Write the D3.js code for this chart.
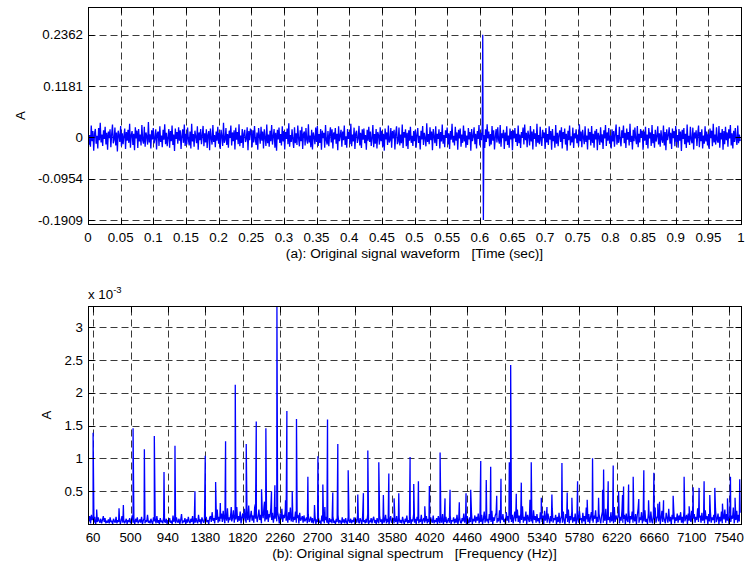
<!DOCTYPE html>
<html><head><meta charset="utf-8">
<script src="https://cdn.jsdelivr.net/npm/d3@7"></script>
<style>
body{margin:0;background:#fff}
svg text{font-family:Arial,"Liberation Sans",Helvetica,sans-serif;fill:#000}
</style>
</head><body>
<svg id="c" width="746" height="567"></svg>
<script>
// ---------- DATA ----------
// (a) waveform: time axis ticks and values
const timeTicks = [0,0.05,0.1,0.15,0.2,0.25,0.3,0.35,0.4,0.45,0.5,0.55,0.6,0.65,0.7,0.75,0.8,0.85,0.9,0.95,1];
const waveTicks = [-0.1909,-0.0954,0,0.1181,0.2362];
const sampleStep = 0.00125; // sec between plotted samples
// noise samples 0 - 0.5 s, in units of 1e-3 A (estimated from the band)
const waveNoiseFirstHalf = [
12,-18,5,-22,27,-9,14,-31,8,19,-15,3,-26,21,-7,33,-12,6,-20,16,
-4,24,-17,10,-29,13,-2,18,-23,7,29,-14,-6,22,-19,11,-33,15,4,-11,
26,-21,9,-16,3,20,-27,12,-8,17,-13,31,-24,5,14,-18,8,-30,23,-3,
15,-25,19,-10,6,-19,28,-7,-15,24,-22,11,2,-17,35,-12,7,-26,16,-5,
21,-14,-3,18,-28,9,13,-20,25,-11,4,-23,17,-6,30,-16,10,-21,-1,19,
-24,14,-9,27,-18,6,-32,20,-4,12,-15,23,-8,16,-27,3,18,-13,29,-20,
8,-17,22,-5,-19,13,-26,31,-10,7,-22,15,1,-14,25,-29,11,-7,19,-16,
4,26,-21,9,-12,18,-25,6,14,-30,20,-3,-17,28,-11,5,-23,13,-8,24,
-15,10,-27,17,2,-20,33,-13,-6,21,-18,7,-24,15,-2,27,-19,11,-9,16,
-28,22,-6,12,-16,30,-21,4,-13,19,-25,8,17,-11,-4,23,-30,14,-7,20,
9,-23,16,-12,26,-5,-18,11,-29,21,3,-15,24,-8,13,-26,18,-2,-20,29,
-14,6,-22,15,-9,28,-17,2,19,-24,10,-31,17,-5,22,-13,7,-19,25,-10,
14,-28,12,-4,20,-16,32,-22,5,-11,18,-7,-25,23,-14,9,-18,27,-3,-21,
16,-9,24,-27,8,13,-19,21,-6,-15,30,-12,4,-23,17,-28,11,1,-16,22,
-11,26,-20,7,-13,19,-29,15,-2,10,-24,28,-8,-17,14,-21,6,23,-12,18,
-26,11,-5,21,-15,8,-30,25,-9,3,17,-22,13,-7,27,-18,2,-24,19,-4,
12,-16,31,-21,6,-10,22,-27,9,15,-13,-3,26,-19,10,-25,18,-6,20,-14,
5,-29,17,-8,24,-11,13,-20,-2,28,-23,7,-15,19,-26,12,4,-17,23,-9,
15,-22,8,-31,20,-5,11,-18,27,-12,-7,21,-24,14,-3,17,-28,9,25,-16,
-10,22,-19,6,-14,29,-25,12,-1,18,-21,10,-27,16,-8,24,-13,3,-20,14
];
// noise samples 0.5 - 1 s, in units of 1e-3 A
const waveNoiseSecondHalf = [
-9,17,-24,6,21,-13,3,-28,15,-5,26,-18,10,-2,-21,32,-11,7,-16,23,
-7,13,-30,19,1,-14,25,-20,8,-4,18,-26,12,-10,29,-15,5,-23,16,-1,
22,-17,9,-27,14,-6,31,-12,3,-19,24,-8,11,-29,17,-3,20,-22,6,-13,
27,-10,15,-24,4,-18,21,-5,12,-31,19,-9,2,23,-16,8,-26,14,-4,28,
-19,10,-7,24,-14,5,-25,18,-11,30,-3,13,-21,7,-17,26,-8,16,-28,1,
19,-12,23,-6,-15,28,-22,9,-2,17,-27,11,-9,25,-18,4,-24,20,-5,14,
-30,16,-3,21,-11,8,-20,27,-14,6,-25,12,-1,22,-17,29,-7,10,-23,15,
3,-19,26,-10,13,-28,18,-4,9,-22,31,-13,5,-16,24,-8,-20,17,-2,11,
-27,21,-12,7,-18,25,-6,14,-29,19,-9,3,-24,28,-15,10,-21,6,16,-11,
23,-26,12,-4,20,-17,8,-31,15,-7,27,-19,2,-12,22,-25,9,-3,18,-14,
6,-21,30,-9,13,-23,17,-1,-16,25,-11,4,-28,20,-6,12,-19,26,-13,8,
-24,15,-5,19,-30,10,2,-18,23,-12,7,-27,16,-3,28,-20,11,-8,21,-15,
4,-26,18,-10,14,-22,9,29,-17,5,-13,24,-7,-21,16,-2,27,-14,10,-25,
20,-6,12,-19,31,-11,3,-28,17,-9,22,-4,-16,26,-23,8,-12,19,-1,15,
-29,13,-8,24,-18,6,-26,21,-3,11,-20,28,-14,7,-24,17,-10,2,25,-17,
9,-22,16,-5,-13,27,-19,12,-30,18,-7,4,23,-15,10,-27,20,-2,14,-21,
26,-11,5,-24,19,-8,13,-32,17,-4,21,-16,8,-25,29,-12,3,-18,24,-6,
-14,22,-28,11,-3,16,-20,7,27,-23,12,-9,18,-26,4,-15,25,-10,13,-19,
8,-27,20,-2,15,-21,31,-12,6,-17,23,-8,-13,26,-24,10,-5,19,-29,14,
-16,24,-7,11,-22,18,-3,28,-19,9,-26,15,-11,21,-4,-18,27,-14,6,-9
];
// impulse near t = 0.605 s
const spikeTimes = [0.6045, 0.6055];
const spikeValues = [0.2362, -0.1909];

// (b) spectrum: frequency ticks, amplitude ticks (x 1e-3)
const freqTicks = [60,500,940,1380,1820,2260,2700,3140,3580,4020,4460,4900,5340,5780,6220,6660,7100,7540];
const specTicks = [0.5,1,1.5,2,2.5,3];
const floorStep = 10; // Hz between floor samples
// background floor 0 - 3830 Hz, units of 1e-5 A
const spectrumFloorLow = [
16,4,12,1,14,6,9,2,11,0,7,3,10,5,2,8,1,6,12,3,9,1,5,2,
7,1,10,3,5,0,8,4,2,11,1,6,3,9,0,5,12,2,7,1,4,8,0,6,
3,9,1,5,13,2,6,0,8,3,10,1,4,7,2,11,0,5,9,1,6,3,14,2,
5,1,8,3,0,10,4,7,1,12,2,6,0,9,3,5,1,11,4,2,8,0,6,3,
9,2,5,0,13,3,7,1,10,4,2,8,0,6,15,1,5,3,9,0,7,2,11,4,
1,8,3,12,0,6,2,9,4,1,14,3,7,0,10,5,2,8,1,11,3,6,0,9,
12,3,18,5,9,1,15,6,22,2,11,4,8,16,3,20,7,1,13,5,24,2,10,6,
17,4,9,21,2,14,7,26,3,12,5,19,1,10,16,4,23,8,2,15,6,28,3,11,
20,5,13,2,25,8,16,3,11,22,6,14,1,18,9,27,4,12,7,21,3,15,10,24,
6,17,2,13,8,26,4,19,11,1,16,7,23,3,14,9,20,5,12,2,18,6,25,4,
15,3,11,6,19,2,9,14,1,17,5,8,12,2,13,4,7,10,1,15,3,6,11,2,
9,1,6,12,0,7,3,10,2,5,0,13,4,8,1,6,11,2,4,0,9,3,7,1,
12,2,5,0,8,3,14,1,6,4,0,10,2,7,1,9,3,0,11,5,2,8,1,6,
3,10,0,7,2,13,4,1,9,5,0,12,3,6,1,8,2,15,0,5,3,9,1,7,
11,2,6,0,9,4,1,13,3,7,0,10,2,5,14,1,8,3,0,6,12,2,4,9,
1,7,3,12,0,5,9,2,6,1,11,4,0,8,3,13,1,6,2,10,0,7,4,15
];
// background floor 3840 - 7670 Hz, units of 1e-5 A
const spectrumFloorHigh = [
2,8,0,11,5,1,7,3,14,0,6,9,2,4,12,1,8,3,0,10,5,2,13,1,
6,3,9,0,12,4,1,8,2,15,0,7,3,11,1,5,9,2,13,0,6,4,10,1,
8,2,14,0,6,11,3,1,9,4,16,2,7,0,12,5,1,10,3,18,0,8,4,13,
2,11,5,16,1,9,3,14,0,7,19,2,12,4,8,1,15,6,3,20,0,10,5,13,
17,2,9,4,21,1,11,6,15,3,8,0,18,5,12,2,24,7,3,14,1,10,19,4,
9,22,3,13,1,16,6,27,2,11,5,19,0,14,8,3,17,4,10,1,21,6,12,2,
15,4,9,1,18,7,3,13,0,20,5,11,2,16,8,1,12,4,23,2,9,6,14,0,
11,3,17,1,8,13,2,19,5,0,15,9,3,22,1,12,6,18,2,10,4,16,0,7,
14,2,20,6,9,1,17,4,12,0,25,7,3,15,1,10,18,5,2,13,8,21,1,11,
3,16,7,1,12,19,2,9,5,23,0,14,6,11,2,18,4,8,1,26,3,13,7,10,
17,1,11,5,20,2,8,14,0,16,6,3,22,1,12,7,19,2,9,4,15,0,13,24,
2,10,6,18,1,13,4,21,3,8,0,16,11,2,19,5,1,14,7,25,2,9,12,4,
15,0,8,20,3,12,6,1,17,9,2,23,4,11,0,14,7,19,1,10,5,16,2,13,
6,18,2,11,1,22,4,9,14,0,16,5,12,3,20,1,8,15,2,11,6,24,3,10,
13,2,17,5,9,1,21,7,12,0,15,4,19,2,10,6,14,1,23,3,8,16,0,11,
4,19,1,12,7,22,2,15,5,10,0,18,3,13,8,25,1,11,6,20,2,14,4,17
];
// spectral peaks: frequency (Hz)
const peakFreqs = [60,102,365,416,530,663,780,894,1023,1258,1379,1501,1556,1618,1685,1732,1861,1967,1979,2041,2076,2092,2158,2198,2222,2323,2339,2402,2452,2586,2664,2704,2762,2786,2817,2879,2938,3060,3173,3239,3291,3420,3474,3538,3600,3655,3788,3831,3886,3961,4015,4141,4199,4258,4367,4446,4501,4619,4684,4736,4807,4857,4955,4971,5037,5096,5198,5213,5331,5398,5456,5574,5636,5691,5758,5871,5934,6005,6052,6064,6118,6177,6240,6287,6299,6358,6412,6478,6537,6593,6655,6702,6722,6769,6882,7011,7070,7117,7187,7246,7313,7372,7462,7521,7556,7610,7665];
// spectral peaks: amplitude (x 1e-3 A)
const peakAmps = [1.39,0.22,0.24,0.29,1.46,1.14,1.34,0.79,1.19,0.50,1.04,0.64,0.32,1.26,0.26,2.12,1.22,0.30,1.56,0.53,0.34,1.46,0.50,0.59,3.32,0.36,1.72,0.50,1.60,0.72,0.29,1.03,0.60,0.26,1.59,0.48,1.22,0.82,0.45,0.47,1.12,0.94,0.44,0.77,0.39,0.47,1.02,0.61,0.65,0.27,0.58,1.09,0.39,0.52,0.33,0.47,0.52,0.96,0.67,0.87,0.43,0.69,0.94,2.42,0.46,0.63,0.37,0.94,0.40,0.26,0.45,0.93,0.48,0.40,0.65,0.37,1.00,0.40,0.52,0.83,0.65,0.89,0.50,0.44,0.57,0.60,0.72,0.38,0.82,0.36,0.78,0.31,0.34,0.36,0.43,0.72,0.27,0.56,0.55,0.65,0.44,0.55,0.31,0.39,0.72,0.40,0.68];

// ---------- BUILD SERIES ----------
const waveData = waveNoiseFirstHalf.concat(waveNoiseSecondHalf)
  .map((v, i) => [i * sampleStep, v / 1000])
  .concat(spikeTimes.map((t, i) => [t, spikeValues[i]]))
  .sort((a, b) => a[0] - b[0]);
const specData = spectrumFloorLow.concat(spectrumFloorHigh)
  .map((v, i) => [i * floorStep, v / 100])
  .concat(peakFreqs.map((f, i) => [f, peakAmps[i]]))
  .sort((a, b) => a[0] - b[0]);

// ---------- DRAW ----------
const svg = d3.select("#c");
const FS = 13.3;
const NB = "\u00a0";

function panel(o) {
  const g = svg.append("g");
  const x = d3.scaleLinear().domain(o.xDomain).range([o.left, o.right]);
  const y = d3.scaleLinear().domain(o.yDomain).range([o.bottom, o.top]);
  const px = v => Math.round(x(v)) + 0.5;
  const py = v => Math.round(y(v)) + 0.5;
  const L = Math.round(o.left) + 0.5, R = Math.round(o.right) + 0.5;
  const T = Math.round(o.top) + 0.5, B = Math.round(o.bottom) + 0.5;

  // grid
  const grid = g.append("g").attr("stroke", "#3a3a3a").attr("stroke-width", 1)
    .attr("stroke-dasharray", "7,4").attr("fill", "none");
  o.xTicks.forEach(t => grid.append("line").attr("x1", px(t)).attr("x2", px(t)).attr("y1", B).attr("y2", T));
  o.yTicks.forEach(t => grid.append("line").attr("x1", L).attr("x2", R).attr("y1", py(t)).attr("y2", py(t)));

  // data
  const cid = "clip" + o.id;
  svg.append("clipPath").attr("id", cid).append("rect")
    .attr("x", o.left).attr("y", o.top).attr("width", o.right - o.left).attr("height", o.bottom - o.top);
  g.append("path").datum(o.data)
    .attr("clip-path", `url(#${cid})`)
    .attr("fill", "none").attr("stroke", "#0000ff").attr("stroke-width", o.lw)
    .attr("stroke-linejoin", "bevel")
    .attr("d", d3.line().x(d => x(d[0])).y(d => y(d[1])));

  // box + ticks
  const ax = g.append("g").attr("stroke", "#000").attr("stroke-width", 1).attr("fill", "none");
  ax.append("rect").attr("x", L).attr("y", T).attr("width", R - L).attr("height", B - T);
  const tl = 6;
  o.xTicks.forEach(t => {
    ax.append("line").attr("x1", px(t)).attr("x2", px(t)).attr("y1", B).attr("y2", B - tl);
    ax.append("line").attr("x1", px(t)).attr("x2", px(t)).attr("y1", T).attr("y2", T + tl);
  });
  o.yTicks.forEach(t => {
    ax.append("line").attr("x1", L).attr("x2", L + tl).attr("y1", py(t)).attr("y2", py(t));
    ax.append("line").attr("x1", R).attr("x2", R - tl).attr("y1", py(t)).attr("y2", py(t));
  });

  // tick labels
  o.xTicks.forEach(t => g.append("text").attr("x", x(t)).attr("y", o.bottom + 17.5)
    .attr("text-anchor", "middle").attr("font-size", FS).text(o.xFmt(t)));
  o.yTicks.forEach(t => g.append("text").attr("x", o.left - 5).attr("y", y(t) + 4.8)
    .attr("text-anchor", "end").attr("font-size", FS).text(o.yFmt(t)));

  // labels
  g.append("text").attr("x", (o.left + o.right) / 2).attr("y", o.bottom + 34)
    .attr("text-anchor", "middle").attr("font-size", 13.7).text(o.xlabel);
  g.append("text").attr("transform", `translate(${o.ylabelX},${(o.top + o.bottom) / 2}) rotate(-90)`)
    .attr("text-anchor", "middle").attr("font-size", FS).text("A");
  return {x, y};
}

panel({
  id: "a", left: 88, right: 741, top: 7, bottom: 224,
  xDomain: [0, 1], yDomain: [-0.2, 0.3],
  xTicks: timeTicks, yTicks: waveTicks,
  xFmt: t => String(+t.toFixed(2)), yFmt: t => String(t),
  data: waveData, lw: 1.3,
  xlabel: "(a): Original signal waveform" + NB + NB + NB + "[Time (sec)]", ylabelX: 25
});

panel({
  id: "b", left: 88, right: 741, top: 306, bottom: 524,
  xDomain: [0, 7680], yDomain: [0, 3.32],
  xTicks: freqTicks, yTicks: specTicks,
  xFmt: t => String(t), yFmt: t => String(t),
  data: specData, lw: 1.3,
  xlabel: "(b): Original signal spectrum" + NB + NB + NB + "[Frequency (Hz)]", ylabelX: 51
});

// exponent label
const ex = svg.append("text").attr("x", 88).attr("y", 299).attr("font-size", FS);
ex.append("tspan").text("x 10");
ex.append("tspan").attr("dy", -6).attr("font-size", 9.5).text("-3");
</script>
</body></html>
